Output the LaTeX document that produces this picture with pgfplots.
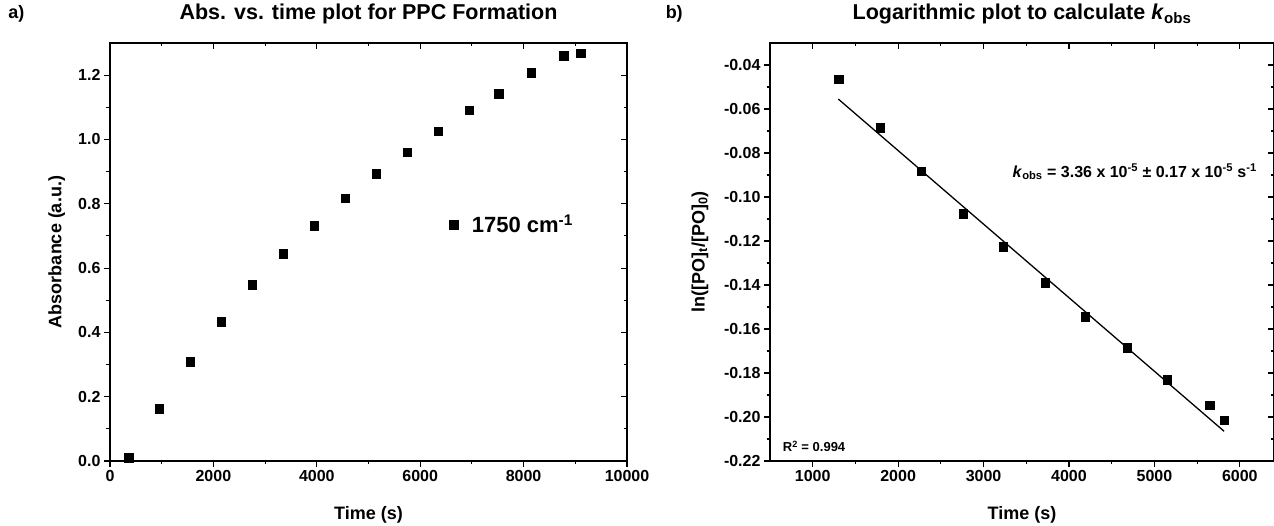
\documentclass[border=0pt]{standalone}
\usepackage{fontspec}
\setmainfont{Liberation Sans}
\usepackage{pgfplots}
\pgfplotsset{compat=1.18}

\pgfplotsset{
  panel/.style={
    scale only axis, height=418pt, clip=false,
    axis line style={line width=1.3pt},
    tick style={line width=1.1pt, black},
    major tick length=6pt, minor tick length=3.5pt,
    tick align=outside, xtick pos=bottom, ytick pos=left,
    scaled x ticks=false, scaled y ticks=false,
    ticklabel style={font=\fontsize{16}{18}\selectfont\bfseries},
    /pgf/number format/assume math mode=true,
    /pgf/number format/1000 sep={},
  },
  mirror/.style={
    scale only axis, height=418pt,
    axis line style={line width=1.3pt},
    tick style={line width=1.1pt, black},
    major tick length=6pt, minor tick length=3.5pt,
    tick align=inside, xtick pos=top, ytick pos=right,
    scaled x ticks=false, scaled y ticks=false,
    xticklabels={}, yticklabels={},
  },
  dots/.style={only marks, mark=square*, mark size=4.3pt, black},
}

\newcommand{\lblfont}{\fontsize{18}{20}\selectfont\bfseries}
\newcommand{\ttlfont}{\fontsize{21.5}{24}\selectfont\bfseries}

\begin{document}
\begin{tikzpicture}

% a) absorbance vs time
\begin{axis}[panel, width=517pt,
  xmin=0, xmax=10000, ymin=0, ymax=1.3,
  xtick={0,2000,4000,6000,8000,10000}, minor x tick num=1,
  ytick={0,0.2,0.4,0.6,0.8,1.0,1.2}, minor y tick num=1,
  yticklabel style={/pgf/number format/.cd, fixed, fixed zerofill, precision=1},
  legend style={at={(axis cs:6500,0.735)}, anchor=west, draw=none, fill=none,
    font=\fontsize{22}{24}\selectfont\bfseries},
]
\addplot[dots] coordinates {
  (360,0.010) (955,0.162) (1550,0.308) (2150,0.433) (2750,0.549)
  (3350,0.644) (3950,0.731) (4550,0.817) (5150,0.894) (5750,0.960)
  (6350,1.026) (6950,1.091) (7520,1.142) (8150,1.207) (8770,1.260)
  (9110,1.268)};
\addlegendentry{\hspace{12pt}1750 cm\textsuperscript{-1}}
\node[rotate=90, font=\lblfont] at (axis description cs:-0.103,0.5) {Absorbance (a.u.)};
\node[font=\lblfont] at (axis description cs:0.5,-0.129) {Time (s)};
\node[font=\ttlfont] at (axis description cs:0.5,1.069) {Abs. vs. time plot for PPC Formation};
\node[font=\lblfont] at (axis description cs:-0.181,1.069) {a)};
\end{axis}
\begin{axis}[mirror, width=517pt, xmin=0, xmax=10000, ymin=0, ymax=1.3,
  xtick={0,2000,4000,6000,8000,10000}, minor x tick num=1,
  ytick={0,0.2,0.4,0.6,0.8,1.0,1.2}, minor y tick num=1]
\end{axis}

% b) logarithmic plot
\begin{axis}[panel, width=504pt, at={(660pt,0pt)}, anchor=south west,
  xmin=500, xmax=6400, ymin=-0.22, ymax=-0.03,
  xtick={1000,2000,3000,4000,5000,6000}, minor x tick num=1,
  ytick={-0.22,-0.20,-0.18,-0.16,-0.14,-0.12,-0.10,-0.08,-0.06,-0.04}, minor y tick num=1,
  yticklabel style={/pgf/number format/.cd, fixed, fixed zerofill, precision=2},
]
\addplot[black, line width=1.3pt] coordinates {(1300,-0.0555) (5816,-0.2065)};
\addplot[dots] coordinates {
  (1307,-0.0465) (1790,-0.0685) (2270,-0.0883) (2760,-0.1075)
  (3230,-0.1225) (3720,-0.1390) (4190,-0.1545) (4680,-0.1685)
  (5150,-0.1830) (5650,-0.1947) (5816,-0.2015)};
\node[anchor=west, font=\fontsize{16}{18}\selectfont\bfseries] at (axis cs:3300,-0.0885)
  {\textit{k}\textsubscript{obs} = 3.36 x 10\textsuperscript{-5} ± 0.17 x 10\textsuperscript{-5} s\textsuperscript{-1}};
\node[anchor=west, font=\fontsize{13}{15}\selectfont\bfseries] at (axis cs:610,-0.2135)
  {R\textsuperscript{2} = 0.994};
\node[rotate=90, font=\lblfont] at (axis description cs:-0.139,0.5) {ln([PO]\textsubscript{t}/[PO]\textsubscript{0})};
\node[font=\lblfont] at (axis description cs:0.5,-0.129) {Time (s)};
\node[font=\ttlfont] at (axis description cs:0.5,1.069) {Logarithmic plot to calculate \textit{k}\textsubscript{obs}};
\node[font=\lblfont] at (axis description cs:-0.19,1.069) {b)};
\end{axis}
\begin{axis}[mirror, width=504pt, at={(660pt,0pt)}, anchor=south west,
  xmin=500, xmax=6400, ymin=-0.22, ymax=-0.03,
  xtick={1000,2000,3000,4000,5000,6000}, minor x tick num=1,
  ytick={-0.22,-0.20,-0.18,-0.16,-0.14,-0.12,-0.10,-0.08,-0.06,-0.04}, minor y tick num=1]
\end{axis}

\pgfresetboundingbox
\useasboundingbox (-110pt,-65pt) rectangle (1164pt,461pt);
\end{tikzpicture}
\end{document}
